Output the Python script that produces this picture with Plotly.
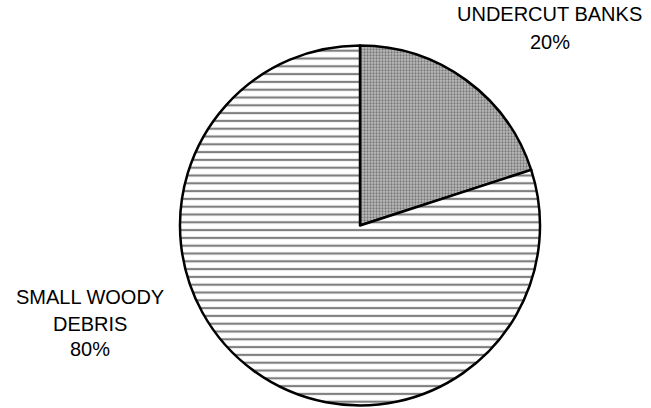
import plotly.graph_objects as go

# Habitat cover composition
labels = ["UNDERCUT BANKS", "SMALL WOODY DEBRIS"]
label_lines = [["UNDERCUT BANKS"], ["SMALL WOODY", "DEBRIS"]]
values = [20, 80]

W, H = 651, 408
cx, cy, r = 360, 225.5, 180

fig = go.Figure(
    go.Pie(
        labels=labels,
        values=values,
        sort=False,
        direction="clockwise",
        rotation=0,
        textinfo="none",
        hoverinfo="label+percent",
        showlegend=False,
        marker=dict(
            colors=["white", "white"],
            line=dict(color="black", width=2.5),
            pattern=dict(
                shape=[".", "-"],
                fgcolor=["#333333", "black"],
                bgcolor=["#bdbdbd", "white"],
                size=[3, 7.8],
                solidity=[0.45, 0.28],
                fillmode="overlay",
            ),
        ),
        domain=dict(
            x=[(cx - r) / W, (cx + r) / W],
            y=[1 - (cy + r) / H, 1 - (cy - r) / H],
        ),
    )
)

total = sum(values)
# label block text centres in pixels: x, and y of each line
anchors = [(549.5, [14.5, 42.5]), (89.5, [297, 323.5, 349])]
annotations = []
for lines, v, (ax, ys) in zip(label_lines, values, anchors):
    rows = lines + [f"{round(100 * v / total)}%"]
    for t, ay in zip(rows, ys):
        annotations.append(
            dict(
                text=t,
                x=ax / W,
                y=1 - ay / H,
                xref="paper",
                yref="paper",
                xanchor="center",
                yanchor="middle",
                showarrow=False,
                font=dict(family="Liberation Sans, Arial", size=20, color="black"),
            )
        )

fig.update_layout(
    width=W,
    height=H,
    margin=dict(l=0, r=0, t=0, b=0),
    paper_bgcolor="white",
    plot_bgcolor="white",
    annotations=annotations,
)

fig.write_html("out.html")
